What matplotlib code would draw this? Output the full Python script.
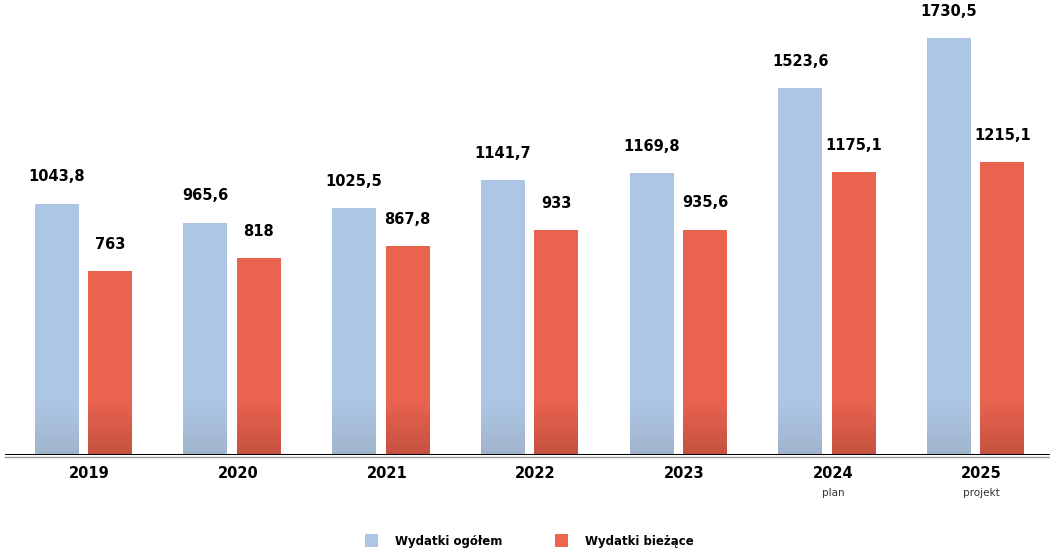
import matplotlib
matplotlib.use("Agg")
import matplotlib.pyplot as plt
import numpy as np
from matplotlib.colors import to_rgb

years = ["2019", "2020", "2021", "2022", "2023", "2024", "2025"]
sublabels = ["", "", "", "", "", "plan", "projekt"]
ogolem = [1043.8, 965.6, 1025.5, 1141.7, 1169.8, 1523.6, 1730.5]
biezace = [763, 818, 867.8, 933, 935.6, 1175.1, 1215.1]
labels_ogolem = ["1043,8", "965,6", "1025,5", "1141,7", "1169,8", "1523,6", "1730,5"]
labels_biezace = ["763", "818", "867,8", "933", "935,6", "1175,1", "1215,1"]
series_names = ["Wydatki ogółem", "Wydatki bieżące"]

blue_top, blue_bot = "#adc6e5", "#a0b3cb"
red_top, red_bot = "#e9634f", "#c4513f"

W, H = 1050, 548
fig = plt.figure(figsize=(W / 100, H / 100), dpi=100)
ax_bottom = (H - 455) / H
ax = fig.add_axes([5 / W, ax_bottom, 1 - 5 / W, 1 - ax_bottom])
ymax = 1890
xlim = (-0.528, 6.5)
ax.axis("off")

x = np.arange(len(years))
bw = 0.296
off = 0.18
grad_h = 230  # data units of darkened bottom
nseg = 40


def grad_bar(xc, h, ctop, cbot):
    # solid bar
    ax.bar([xc], [h], width=bw, color=ctop, zorder=2, linewidth=0)
    # gradient overlay at the bottom, as thin stacked slices
    t = np.array(to_rgb(ctop))
    b = np.array(to_rgb(cbot))
    gh = min(grad_h, h)
    edges = np.linspace(0, gh, nseg + 1)
    for k in range(nseg):
        f = 1 - (k + 0.5) / nseg  # 1 at bottom
        c = b * f + t * (1 - f)
        ax.bar([xc], [edges[k + 1] - edges[k]], bottom=edges[k], width=bw,
               color=c, zorder=3, linewidth=0, antialiased=False)


for i in range(len(years)):
    grad_bar(x[i] - off, ogolem[i], blue_top, blue_bot)
    grad_bar(x[i] + off, biezace[i], red_top, red_bot)
    ax.annotate(labels_ogolem[i], (x[i] - off, ogolem[i]), xytext=(0, 14),
                textcoords="offset points", ha="center", va="bottom",
                fontsize=10.5, fontweight="bold", color="black")
    ax.annotate(labels_biezace[i], (x[i] + off, biezace[i]), xytext=(0, 14),
                textcoords="offset points", ha="center", va="bottom",
                fontsize=10.5, fontweight="bold", color="black")

ax.set_ylim(0, ymax)
ax.set_xlim(*xlim)

# baseline
ax.axhline(0, color="black", lw=2.2, zorder=5)
fig.add_artist(plt.Line2D([5 / W, 1], [ax_bottom - 2 / H] * 2, color="#9a9a9a", lw=1))

# x labels
for i in range(len(years)):
    xd = x[i] + 0.04
    ax.annotate(years[i], (xd, 0), xytext=(0, -8), textcoords="offset points",
                ha="center", va="top", fontsize=10.5, fontweight="bold",
                annotation_clip=False)
    if sublabels[i]:
        ax.annotate(sublabels[i], (xd, 0), xytext=(0, -24), textcoords="offset points",
                    ha="center", va="top", fontsize=7.5, color="#333333",
                    annotation_clip=False)

# legend
ly = 1 - 541 / H
for xs, col, name in [(365, "#adc6e5", series_names[0]), (555, "#ef6550", series_names[1])]:
    fig.add_artist(plt.Rectangle((xs / W, ly - 6 / H), 13 / W, 13 / H,
                                 transform=fig.transFigure, color=col, lw=0))
    fig.text((xs + 30) / W, ly, name, ha="left", va="center", fontsize=8.5,
             fontweight="bold", color="black")

fig.savefig("out.png", dpi=100)
